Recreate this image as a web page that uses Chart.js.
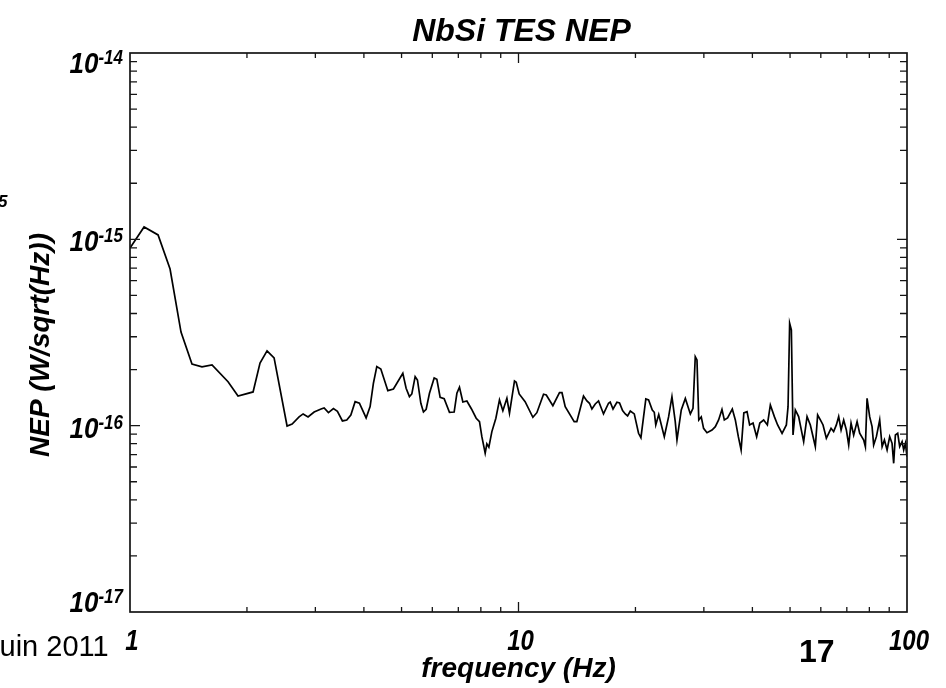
<!DOCTYPE html>
<html>
<head>
<meta charset="utf-8">
<script src="https://cdn.jsdelivr.net/npm/chart.js@4.4.1/dist/chart.umd.min.js"></script>
<style>
  body { margin: 0; background: #fff; }
  #wrap { width: 946px; height: 688px; position: relative; }
</style>
</head>
<body>
<div id="wrap"><canvas id="nepChart"></canvas></div>
<script>
// NbSi TES NEP spectrum

// frequency in Hz
var freq = [
  1.00, 1.087, 1.181, 1.268, 1.353, 1.444, 1.532, 1.626, 1.788, 1.897,
  2.074, 2.161, 2.253, 2.349, 2.537, 2.614, 2.724, 2.790, 2.873, 2.978,
  3.103, 3.160, 3.242, 3.339, 3.419, 3.522, 3.614, 3.702, 3.797, 3.895,
  4.053, 4.150, 4.232, 4.318, 4.422, 4.610, 4.765, 5.038, 5.137, 5.239,
  5.314, 5.420, 5.494, 5.606, 5.693, 5.785, 5.900, 6.067, 6.164, 6.285,
  6.437, 6.642, 6.830, 6.941, 7.048, 7.191, 7.364, 7.568, 7.782, 7.936,
  8.048, 8.208, 8.290, 8.389, 8.540, 8.745, 8.934, 9.115, 9.335, 9.480,
  9.765, 9.865, 10.04, 10.40, 10.89, 11.15, 11.60, 11.79, 12.26, 12.75,
  12.94, 13.19, 13.91, 14.13, 14.70, 15.00, 15.23, 15.45, 15.76, 16.07,
  16.55, 17.05, 17.22, 17.51, 17.92, 18.20, 18.53, 18.83, 19.09, 19.40,
  19.86, 20.37, 20.66, 21.27, 21.62, 22.10, 22.36, 22.56, 22.96, 23.73,
  24.34, 24.83, 25.32, 25.58, 26.24, 26.88, 27.69, 28.13, 28.51, 28.80,
  29.11, 29.54, 29.95, 30.56, 31.48, 32.11, 32.74, 33.40, 33.87, 34.53,
  35.51, 36.15, 36.80, 37.41, 38.02, 38.75, 39.35, 40.15, 41.02, 41.80,
  42.76, 43.71, 44.49, 45.56, 46.45, 47.69, 48.92, 49.41, 49.88, 50.39,
  50.89, 51.59, 52.61, 54.20, 55.30, 56.39, 58.08, 58.88, 59.84, 60.80,
  62.00, 62.86, 63.75, 64.74, 65.79, 66.70, 67.66, 68.71, 69.81, 70.78,
  71.78, 72.90, 74.39, 75.54, 77.36, 78.14, 78.92, 80.15, 81.30, 82.07,
  83.41, 85.06, 86.29, 87.47, 88.87, 90.25, 91.53, 92.41, 93.35, 94.64,
  95.76, 97.14, 98.06, 99.05, 100.0
];

// NEP in units of 1e-16 W/sqrt(Hz)
var nep16 = [
  8.99, 11.65, 10.56, 6.93, 3.18, 2.14, 2.07, 2.12, 1.72, 1.443,
  1.517, 2.17, 2.52, 2.31, 0.996, 1.021, 1.114, 1.156, 1.114, 1.184,
  1.229, 1.245, 1.174, 1.234, 1.195, 1.060, 1.073, 1.141, 1.345, 1.319,
  1.100, 1.265, 1.689, 2.074, 2.015, 1.541, 1.574, 1.911, 1.588, 1.431,
  1.480, 1.832, 1.759, 1.319, 1.184, 1.225, 1.492, 1.803, 1.774, 1.420,
  1.396, 1.180, 1.184, 1.492, 1.607, 1.340, 1.357, 1.229, 1.096, 1.051,
  0.873, 0.711, 0.798, 0.766, 0.929, 1.096, 1.374, 1.204, 1.403, 1.166,
  1.738, 1.710, 1.48, 1.345, 1.109, 1.174, 1.474, 1.462, 1.280, 1.503,
  1.503, 1.265, 1.051, 1.051, 1.443, 1.357, 1.319, 1.229, 1.308, 1.357,
  1.156, 1.319, 1.340, 1.229, 1.335, 1.324, 1.204, 1.156, 1.127, 1.199,
  1.156, 0.910, 0.862, 1.391, 1.374, 1.214, 1.180, 1.009, 1.148, 0.873,
  1.114, 1.431, 1.051, 0.838, 1.214, 1.400, 1.156, 1.240, 2.346, 2.253,
  1.073, 1.114, 0.968, 0.917, 0.948, 0.988, 1.073, 1.222, 1.073, 1.100,
  1.229, 1.073, 0.873, 0.741, 1.170, 1.189, 1.009, 1.034, 0.873, 1.034,
  1.073, 1.009, 1.291, 1.118, 1.009, 0.910, 1.009, 1.265, 3.545, 3.263,
  0.891, 1.214, 1.118, 0.821, 1.118, 1.009, 0.773, 1.141, 1.073, 1.009,
  0.856, 0.910, 0.968, 0.929, 1.009, 1.118, 0.948, 1.073, 0.948, 0.788,
  1.030, 0.891, 1.051, 0.910, 0.838, 0.771, 1.403, 1.118, 0.988, 0.788,
  0.873, 1.073, 0.771, 0.838, 0.741, 0.873, 0.804, 0.628, 0.891, 0.910,
  0.771, 0.821, 0.741, 0.804, 0.682
];

// tick labels
var xTickVals = [1, 10, 100];
var xTickText = ['1', '10', '100'];
var yTickExps = [-14, -15, -16, -17];

var FONT = '"Liberation Sans", Arial, Helvetica, sans-serif';

var points = freq.map(function (f, i) {
  return { x: f, y: nep16[i] * 1e-16 };
});

// text a bit taller than wide, like the slide
function tallText(ctx, txt, x, y, sy) {
  ctx.save();
  ctx.translate(x, y);
  ctx.scale(1, sy);
  ctx.fillText(txt, 0, 0);
  ctx.restore();
}

// draws the box, inward ticks and all the text (IDL style)
var framePlugin = {
  id: 'frame',
  afterDraw: function (chart) {
    var ctx = chart.ctx;
    var a = chart.chartArea;
    var xs = chart.scales.x, ys = chart.scales.y;
    ctx.save();

    // box
    ctx.strokeStyle = '#151515';
    ctx.lineWidth = 1.7;
    ctx.strokeRect(a.left, a.top, a.right - a.left, a.bottom - a.top);

    // ticks
    ctx.lineWidth = 1.3;
    ctx.beginPath();
    for (var d = 1; d < 100; d *= 10) {
      for (var m = 1; m < 10; m++) {
        var v = d * m;
        if (v <= 1) continue;
        var px = xs.getPixelForValue(v);
        var len = (m == 1) ? 10 : 5;
        ctx.moveTo(px, a.bottom); ctx.lineTo(px, a.bottom - len);
        ctx.moveTo(px, a.top); ctx.lineTo(px, a.top + len);
      }
    }
    for (var e = -17; e < -14; e++) {
      for (var k = 1; k < 10; k++) {
        if (e == -17 && k == 1) continue;
        var py = ys.getPixelForValue(k * Math.pow(10, e));
        var ylen = (k == 1) ? 10 : 7;
        ctx.moveTo(a.left, py); ctx.lineTo(a.left + ylen, py);
        ctx.moveTo(a.right, py); ctx.lineTo(a.right - ylen, py);
      }
    }
    ctx.stroke();

    ctx.fillStyle = '#000';
    ctx.textBaseline = 'alphabetic';

    // x tick labels
    ctx.font = 'bold italic 24px ' + FONT;
    ctx.textAlign = 'center';
    xTickVals.forEach(function (v, i) {
      tallText(ctx, xTickText[i], xs.getPixelForValue(v) + 2, a.bottom + 38, 1.2);
    });

    // y tick labels 10^n
    yTickExps.forEach(function (n) {
      var py = ys.getPixelForValue(Math.pow(10, n));
      var mid = Math.min(Math.max(py + 2, a.top + 10), a.bottom - 10);
      var base = mid + 10;
      ctx.textAlign = 'right';
      ctx.font = 'bold italic 17px ' + FONT;
      var sup = String(n);
      var supW = ctx.measureText(sup).width;
      tallText(ctx, sup, a.left - 7, base - 9, 1.15);
      ctx.font = 'bold italic 26px ' + FONT;
      tallText(ctx, '10', a.left - 7 - supW, base, 1.1);
    });

    // titles
    ctx.textAlign = 'center';
    ctx.font = 'bold italic 32px ' + FONT;
    ctx.fillText('NbSi TES NEP', (a.left + a.right) / 2 + 3, 41);

    ctx.font = 'bold italic 28px ' + FONT;
    ctx.fillText('frequency (Hz)', (a.left + a.right) / 2, 677);

    ctx.save();
    ctx.translate(49, 345);
    ctx.rotate(-Math.PI / 2);
    ctx.fillText('NEP (W/sqrt(Hz))', 0, 0);
    ctx.restore();

    // leftovers from the slide around the figure
    ctx.textAlign = 'left';
    ctx.font = 'bold italic 17px ' + FONT;
    ctx.fillText('5', -2, 207);
    ctx.font = '29px ' + FONT;
    ctx.fillText('Juin 2011', -15, 656);
    ctx.font = 'bold 32px ' + FONT;
    ctx.fillText('17', 799, 662);

    ctx.restore();
  }
};

var ctx = document.getElementById('nepChart').getContext('2d');

var chart = new Chart(ctx, {
  type: 'line',
  data: {
    datasets: [{
      data: points,
      borderColor: '#000',
      borderWidth: 1.7,
      pointRadius: 0,
      tension: 0,
      fill: false
    }]
  },
  options: {
    responsive: true,
    maintainAspectRatio: false,
    animation: false,
    layout: { padding: { left: 130, right: 39, top: 53, bottom: 76 } },
    plugins: { legend: { display: false }, tooltip: { enabled: false }, title: { display: false } },
    scales: {
      x: { type: 'logarithmic', min: 1, max: 100, display: false },
      y: { type: 'logarithmic', min: 1e-17, max: 1e-14, display: false }
    }
  },
  plugins: [framePlugin]
});
</script>
</body>
</html>
